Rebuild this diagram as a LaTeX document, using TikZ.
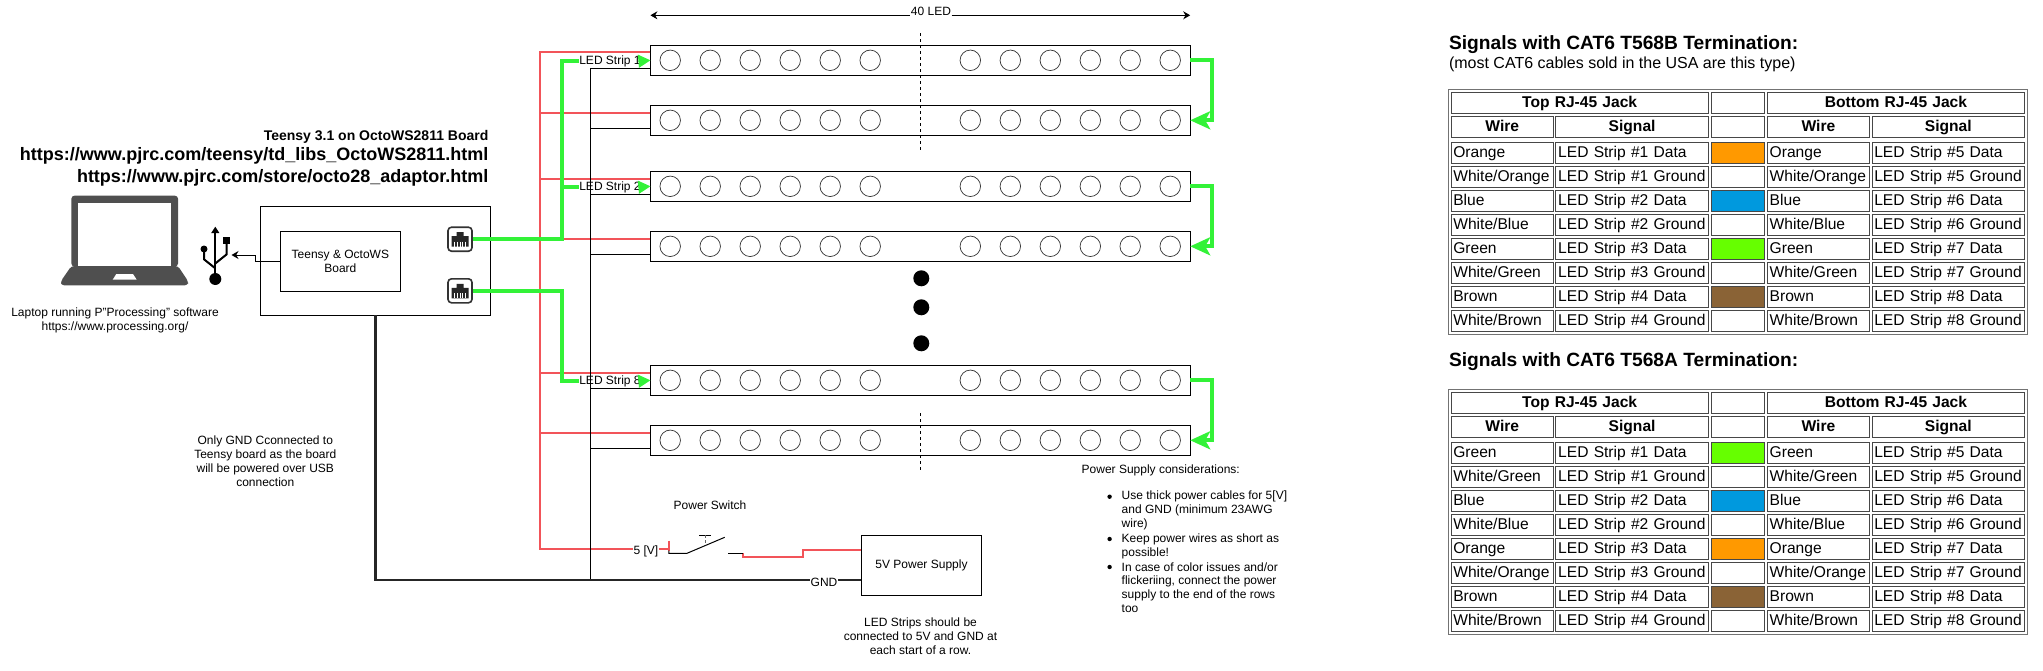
\documentclass[tikz,border=0pt]{standalone}
\usepackage{fontspec}
\setmainfont{Liberation Sans}
\usetikzlibrary{arrows.meta, calc}
\definecolor{wirered}{rgb}{0.95, 0.33, 0.35}
\definecolor{wiregreen}{rgb}{0.20, 0.95, 0.22}
\definecolor{laptopgrey}{rgb}{0.31, 0.31, 0.31}
\definecolor{swOrange}{rgb}{1.0, 0.60, 0.0}
\definecolor{swBlue}{rgb}{0.0, 0.60, 0.87}
\definecolor{swGreen}{rgb}{0.40, 1.0, 0.0}
\definecolor{swBrown}{rgb}{0.54, 0.39, 0.21}
\newcommand{\smalltext}{\fontsize{12}{14}\selectfont}
\tikzset{
	strip/.style={draw, line width=1pt, minimum width=539.8pt, minimum height=30pt, inner sep=0, outer sep=0, anchor=north west},
	led/.style={draw, circle, line width=0.7pt, black!80, minimum size=20.5pt, inner sep=0},
	boardbox/.style={draw, line width=1pt, inner sep=0, outer sep=0, align=center, font=\smalltext},
	lbl/.style={font=\smalltext, align=center, inner sep=0.5pt},
	backlbl/.style={lbl, fill=white},
	redwire/.style={wirered, line width=1.8pt},
	greenwire/.style={wiregreen, line width=4pt},
	thinwire/.style={line width=1pt},
	gndwire/.style={line width=2.4pt, black!85},
	jack/.style={draw=black!80, line width=1.6pt, rounded corners=3.5pt, minimum width=24pt, minimum height=24pt, inner sep=0, fill=white},
	cell/.style={draw=black!72, line width=0.9pt, anchor=north west, inner xsep=2.3pt, inner ysep=0, outer sep=0, minimum height=21.3pt, text height=11.6pt, text depth=3.2pt, align=left, font=\fontsize{15.6}{18}\selectfont},
	headcell/.style={cell, align=center, font=\fontsize{15.6}{18}\selectfont\bfseries},
}
% one RJ-45 icon: name, centre y
\newcommand{\rjicon}[2]{
	\node[jack] (#1) at (460,#2) {};
	\begin{scope}[shift={(#1.center)}]
		\fill[black!85] (-3.5,-7) -- (3.5,-7) -- (3.5,-3) -- (8.5,-3) -- (8.5,7.5) -- (-8.5,7.5) -- (-8.5,-3) -- (-3.5,-3) -- cycle;
		\foreach \p in {-5.6,-2.8,0,2.8,5.6}
			\draw[white, line width=0.7pt] (\p,2.5) -- (\p,7.5);
	\end{scope}
}
% one signal table: name, y of first row, colour order
\newcommand{\cattable}[3]{
	\draw[black!55, line width=1pt] (1448.4,#2-2.7) rectangle (2027.7,#2+242);
	\node[headcell, minimum width=257.3pt, text width=252.7pt] (#1topjack) at (1451,#2) {Top RJ-45 Jack};
	\node[headcell, minimum width=53.1pt, text width=48.5pt] (#1headgap) at (1711.5,#2) {};
	\node[headcell, minimum width=257.2pt, text width=252.6pt] (#1botjack) at (1767.4,#2) {Bottom RJ-45 Jack};
	\foreach \cx/\cw/\ttl in {1451/102.5/Wire, 1555.9/152.4/Signal, 1711.5/53.1/, 1767.4/102/Wire, 1872/152.6/Signal}{
		\pgfmathsetmacro{\tw}{\cw-4.6}
		\node[headcell, minimum width=\cw pt, text width=\tw pt] at (\cx,#2+24) {\ttl};
	}
	\foreach \wire/\swatch/\na/\nb [count=\k from 0] in {#3}{
		\pgfmathsetmacro{\ya}{#2+50+48*\k}
		\pgfmathsetmacro{\yb}{\ya+24}
		\node[cell, minimum width=102.5pt, text width=97.9pt] (#1wa\k) at (1451,\ya) {\wire};
		\node[cell, minimum width=102.5pt, text width=97.9pt] (#1wb\k) at (1451,\yb) {White/\wire};
		\node[cell, minimum width=152.4pt, text width=147.8pt] (#1sa\k) at (1555.9,\ya) {LED Strip \#\na{} Data};
		\node[cell, minimum width=152.4pt, text width=147.8pt] (#1sb\k) at (1555.9,\yb) {LED Strip \#\na{} Ground};
		\node[cell, fill=\swatch, minimum width=53.1pt, text width=48.5pt] (#1ca\k) at (1711.5,\ya) {};
		\node[cell, minimum width=53.1pt, text width=48.5pt] (#1cb\k) at (1711.5,\yb) {};
		\node[cell, minimum width=102pt, text width=97.4pt] (#1xa\k) at (1767.4,\ya) {\wire};
		\node[cell, minimum width=102pt, text width=97.4pt] (#1xb\k) at (1767.4,\yb) {White/\wire};
		\node[cell, minimum width=152.6pt, text width=148pt] (#1ta\k) at (1872,\ya) {LED Strip \#\nb{} Data};
		\node[cell, minimum width=152.6pt, text width=148pt] (#1tb\k) at (1872,\yb) {LED Strip \#\nb{} Ground};
	}
}

\begin{document}
\begin{tikzpicture}[x=1pt, y=-1pt]
	\useasboundingbox (0,0) rectangle (2043,670);

	% strips
	\foreach \i/\ytop in {1/45.3, 2/105.3, 3/171.3, 4/231.3, 7/365.3, 8/425.3}{
		\node[strip] (strip\i) at (650.4,\ytop) {};
		\foreach \cx in {670.2,710.2,750.2,790.2,830.2,870.2,970.3,1010.3,1050.3,1090.3,1130.2,1170.2}
			\node[led] at (\cx,\ytop+15) {};
		\coordinate (redin\i) at (650.4,\ytop+8);
		\coordinate (gndin\i) at (650.4,\ytop+23);
	}
	\node[circle, fill=black, minimum size=16pt, inner sep=0] (dotA) at (921.3,278.3) {};
	\node[circle, fill=black, minimum size=16pt, inner sep=0] (dotB) at (921.3,307.3) {};
	\node[circle, fill=black, minimum size=16pt, inner sep=0] (dotC) at (921.3,343.3) {};
	\draw[dashed, thinwire, line width=0.7pt] (920.4,33.3) -- (920.4,150);
	\draw[dashed, thinwire, line width=0.7pt] (920.4,413) -- (920.4,470.7);

	% length arrow
	\node[backlbl] (ledcount) at (931,11.7) {40 LED};
	\coordinate (lenL) at (650.4,15.3);
	\coordinate (lenR) at (1190.2,15.3);
	\draw[thinwire, {Stealth[length=7pt,width=8pt]}-] (lenL) -- (ledcount.west |- lenL);
	\draw[thinwire, -{Stealth[length=7pt,width=8pt]}] (ledcount.east |- lenR) -- (lenR);

	% board
	\node[boardbox, minimum width=230.2pt, minimum height=108.6pt] (board) at (375.5,261) {};
	\node[boardbox, minimum width=120pt, minimum height=60pt] (teensy) at (340.4,261.3) {Teensy \& OctoWS\\Board};
	\rjicon{rjtop}{239.2}
	\rjicon{rjbot}{290.8}

	% texts
	\node[anchor=east, font=\fontsize{14}{16}\selectfont\bfseries, inner sep=0] (title) at (488.6,137) {Teensy 3.1 on OctoWS2811 Board};
	\node[anchor=east, font=\fontsize{18}{20}\selectfont\bfseries, inner sep=0] (urlA) at (488.6,155.5) {https://www.pjrc.com/teensy/td\_libs\_OctoWS2811.html};
	\node[anchor=east, font=\fontsize{18}{20}\selectfont\bfseries, inner sep=0] (urlB) at (488.6,177.5) {https://www.pjrc.com/store/octo28\_adaptor.html};
	\node[lbl] (laptoptext) at (115,320) {Laptop running P"Processing" software\\https://www.processing.org/};
	\node[lbl] (gndnote) at (265.3,461) {Only GND Cconnected to\\Teensy board as the board\\will be powered over USB\\connection};
	\node[lbl] (switchtext) at (710,505.7) {Power Switch};
	\node[lbl] (stripnote) at (920.5,636) {LED Strips should be\\connected to 5V and GND at\\each start of a row.};
	\node[lbl, anchor=west] (powerhead) at (1081,470.7) {Power Supply considerations:};
	\foreach \txt/\yy in {Use thick power cables for 5[V]/496.7, and GND (minimum 23AWG/510.7, wire)/524.7, Keep power wires as short as/539, possible!/553, In case of color issues and\slash or/567, {flickeriing, connect the power}/581, supply to the end of the rows/595, too/609}
		\node[lbl, anchor=west] at (1121,\yy) {\txt};
	\foreach \yy in {496.7,539,567}
		\fill (1109.6,\yy) circle (2.2);

	% laptop
	\fill[laptopgrey, rounded corners=3pt] (71.4,266.5) -- (71.4,195.7) -- (178,195.7) -- (178,266.5) -- cycle;
	\fill[laptopgrey, rounded corners=3pt] (71.4,266) -- (178,266) -- (188,281) -- (188,285.3) -- (61,285.3) -- (61,281) -- cycle;
	\fill[white] (77.6,203.3) rectangle (171.4,266);
	\fill[white] (116.3,274) -- (133,274) -- (136.7,279.7) -- (112.7,279.7) -- cycle;

	% usb symbol
	\coordinate (usbtip) at (231.5,255);
	\draw[line width=2pt] (215.3,232) -- (215.3,279);
	\fill (215.3,226.7) -- (219.4,233) -- (211.2,233) -- cycle;
	\fill (215.3,279) circle (6);
	\fill (204,249) circle (3.5);
	\fill (223.2,237.2) rectangle (230.2,244.2);
	\draw[line width=2pt] (204,249) -- (204,259.3) -- (215.3,268.3);
	\draw[line width=2pt] (226.7,242) -- (226.7,254.3) -- (215.3,263.5);
	\draw[thinwire, -{Stealth[length=7pt,width=8pt]}] (teensy.west) -- (255.3,261.3) |- (usbtip);

	% led strip labels
	\node[backlbl] (lblA) at (610,61) {LED Strip 1};
	\node[backlbl] (lblB) at (610,187) {LED Strip 2};
	\node[backlbl] (lblC) at (610,381) {LED Strip 8};

	% power supply and switch
	\node[boardbox, minimum width=120.4pt, minimum height=60pt] (psu) at (921.5,565.3) {5V Power Supply};
	\node[backlbl, fill=none] (fivev) at (645.9,551.7) {5 [V]};
	\node[backlbl, fill=none] (gnd) at (824,582.7) {GND};
	\coordinate (swL) at (668.8,553.3);
	\coordinate (swM) at (687,553.3);
	\coordinate (swN) at (724.7,537.3);
	\coordinate (swR) at (728.3,553.3);
	\coordinate (swS) at (742.7,553.3);

	% red wires
	\coordinate (redbus) at (540.2,52.3);
	\coordinate (redend) at (540.2,549.3);
	\draw[redwire] (650.4,52.3) -- (redbus) -- (redend) -- (fivev.west |- redend);
	\draw[redwire] (fivev.east |- redend) -- (swL |- redend);
	\foreach \i in {2,3,4,8}
		\draw[redwire] (redin\i) -- ++(-56.4,0) -- ++(0,-0.7) -- ++(-53.8,0);
	\draw[redwire] (redin7) ++(0,-0.7) -- ++(-110.2,0);
	\draw[redwire] (swS) -- ++(0,3.4) -- ++(59.9,0) -- ++(0,-6.4) -- (psu.west |- 0,550.3);
	\draw[redwire] (swL) ++(0,-12.6) -- ++(0,10);

	% switch
	\draw[thinwire] (swL) ++(0,-2.6) -- (swL) -- (swM) -- (swN);
	\draw[thinwire] (swR) -- (swS);
	\draw[thinwire] (699,535) -- (711,535);
	\draw[black!60, line width=1pt, densely dashed] (705,535) -- (705,545);

	% green wires
	\coordinate (upbus) at (562.3,61);
	\coordinate (downbus) at (562.3,381);
	\draw[greenwire] (rjtop.east) -| (upbus) -- (lblA.west);
	\draw[greenwire] (rjtop.east -| upbus) |- (lblB.west);
	\draw[greenwire] (rjbot.east) -| (downbus) -- (lblC.west);
	\foreach \lb/\st in {lblA/strip1, lblB/strip3, lblC/strip7}
		\draw[greenwire, line width=1pt, -{Triangle[length=12pt,width=13pt,fill=wiregreen]}] (\lb.east) -- (\st.west);
	\foreach \a/\b in {strip1/strip2, strip3/strip4, strip7/strip8}
		\draw[greenwire, -{Stealth[length=20pt,width=18pt,inset=5pt]}] (\a.east) -- ++(21.3,0) |- (\b.east);

	% ground wires
	\coordinate (gndbus) at (590.7,580);
	\draw[thinwire] (590.7,68.3) -- (gndbus);
	\foreach \i in {1,2,3,4,7,8}
		\draw[thinwire] (gndin\i) -- (gndin\i -| gndbus);
	\draw[gndwire] (board.south) |- (gndbus) -- (gnd.west |- gndbus);
	\draw[gndwire] (gnd.east |- gndbus) -- (psu.west |- gndbus);

	% tables
	\node[anchor=west, inner sep=0, font=\fontsize{19.2}{21}\selectfont\bfseries] (headB) at (1448.8,44.3) {Signals with CAT6 T568B Termination:};
	\node[anchor=west, inner sep=0, font=\fontsize{16}{18}\selectfont] (subB) at (1448.8,64.3) {(most CAT6 cables sold in the USA are this type)};
	\cattable{tb}{92.3}{Orange/swOrange/1/5, Blue/swBlue/2/6, Green/swGreen/3/7, Brown/swBrown/4/8}
	\node[anchor=west, inner sep=0, font=\fontsize{19.2}{21}\selectfont\bfseries] (headA) at (1448.8,362) {Signals with CAT6 T568A Termination:};
	\cattable{ta}{392.3}{Green/swGreen/1/5, Blue/swBlue/2/6, Orange/swOrange/3/7, Brown/swBrown/4/8}
\end{tikzpicture}
\end{document}
